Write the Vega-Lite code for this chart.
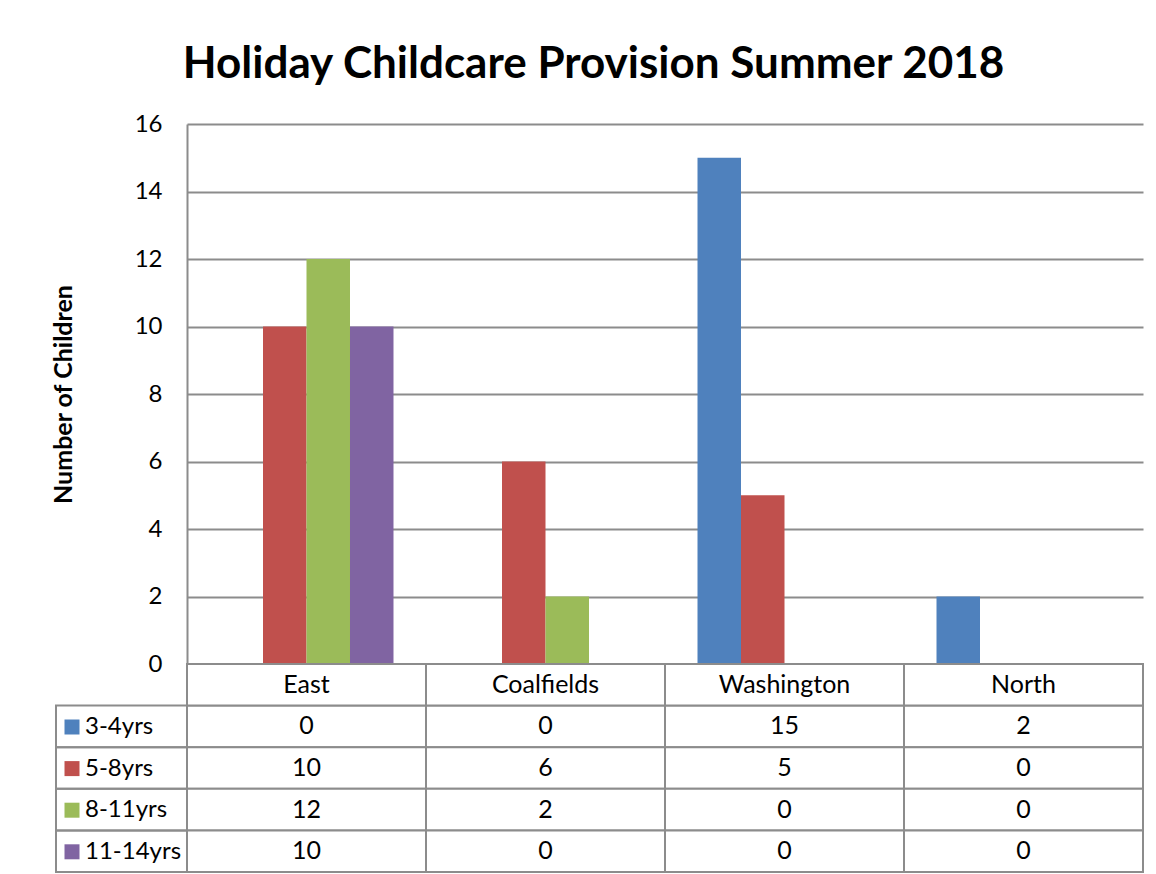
{
  "$schema": "https://vega.github.io/schema/vega-lite/v6.json",
  "background": "white",
  "padding": {"left": 51, "top": 43, "right": 14, "bottom": 2},
  "title": {
    "text": "Holiday Childcare Provision Summer 2018",
    "font": "Lato", "fontSize": 44, "fontWeight": "bold", "color": "black",
    "anchor": "middle", "baseline": "alphabetic", "offset": -10, "dx": -4
  },
  "datasets": {
    "counts": [
      {"region": "East", "group": "3-4yrs", "count": 0},
      {"region": "East", "group": "5-8yrs", "count": 10},
      {"region": "East", "group": "8-11yrs", "count": 12},
      {"region": "East", "group": "11-14yrs", "count": 10},
      {"region": "Coalfields", "group": "3-4yrs", "count": 0},
      {"region": "Coalfields", "group": "5-8yrs", "count": 6},
      {"region": "Coalfields", "group": "8-11yrs", "count": 2},
      {"region": "Coalfields", "group": "11-14yrs", "count": 0},
      {"region": "Washington", "group": "3-4yrs", "count": 15},
      {"region": "Washington", "group": "5-8yrs", "count": 5},
      {"region": "Washington", "group": "8-11yrs", "count": 0},
      {"region": "Washington", "group": "11-14yrs", "count": 0},
      {"region": "North", "group": "3-4yrs", "count": 2},
      {"region": "North", "group": "5-8yrs", "count": 0},
      {"region": "North", "group": "8-11yrs", "count": 0},
      {"region": "North", "group": "11-14yrs", "count": 0}
    ]
  },
  "columns": 2,
  "spacing": 0,
  "align": "each",
  "bounds": "flush",
  "resolve": {
    "scale": {"x": "independent", "y": "independent"},
    "legend": {"color": "independent"}
  },
  "concat": [
    {
      "width": 131, "height": 540,
      "data": {"name": "counts"},
      "transform": [{"filter": {"field": "region", "equal": "East"}}],
      "mark": {"type": "text", "text": ""},
      "encoding": {}
    },
    {
      "width": 956, "height": 540,
      "data": {"name": "counts"},
      "mark": {"type": "bar"},
      "encoding": {
        "x": {
          "field": "region", "type": "nominal",
          "sort": ["East", "Coalfields", "Washington", "North"],
          "scale": {"paddingInner": 0.272, "paddingOuter": 0.136},
          "axis": null
        },
        "xOffset": {
          "field": "group", "type": "nominal",
          "sort": ["3-4yrs", "5-8yrs", "8-11yrs", "11-14yrs"],
          "scale": {"paddingInner": 0, "paddingOuter": 0}
        },
        "y": {
          "field": "count", "type": "quantitative",
          "scale": {"domain": [0, 16], "nice": false},
          "axis": {
            "values": [0, 2, 4, 6, 8, 10, 12, 14, 16],
            "title": "Number of Children",
            "grid": true, "ticks": false, "domain": true,
            "labelPadding": 25, "titlePadding": 58
          }
        },
        "color": {
          "field": "group", "type": "nominal",
          "scale": {
            "domain": ["3-4yrs", "5-8yrs", "8-11yrs", "11-14yrs"],
            "range": ["#4F81BD", "#C0504D", "#9BBB59", "#8064A2"]
          },
          "legend": {
            "orient": "none", "legendX": -127, "legendY": 591,
            "title": null, "symbolType": "square", "symbolSize": 225,
            "symbolStrokeWidth": 0, "symbolOpacity": 1,
            "labelFont": "Lato", "labelFontSize": 24, "labelColor": "black",
            "labelOffset": 1, "rowPadding": 17.6, "padding": 0
          }
        }
      }
    },
    {
      "width": 131, "height": 208,
      "data": {"name": "counts"},
      "transform": [{"filter": {"field": "region", "equal": "East"}}],
      "mark": {"type": "rect", "fillOpacity": 0, "stroke": "#8c8c8c", "strokeWidth": 2},
      "encoding": {
        "y": {
          "field": "group", "type": "nominal",
          "scale": {"domain": ["Region", "3-4yrs", "5-8yrs", "8-11yrs", "11-14yrs"], "paddingInner": 0, "paddingOuter": 0},
          "axis": null
        }
      }
    },
    {
      "width": 956, "height": 208,
      "data": {"name": "counts"},
      "encoding": {
        "x": {
          "field": "region", "type": "nominal",
          "sort": ["East", "Coalfields", "Washington", "North"],
          "scale": {"paddingInner": 0, "paddingOuter": 0},
          "axis": null
        }
      },
      "layer": [
        {
          "mark": {"type": "rect", "fill": "white", "stroke": "#8c8c8c", "strokeWidth": 2},
          "encoding": {
            "y": {
              "field": "group", "type": "nominal",
              "scale": {"domain": ["Region", "3-4yrs", "5-8yrs", "8-11yrs", "11-14yrs"], "paddingInner": 0, "paddingOuter": 0},
              "axis": null
            }
          }
        },
        {
          "mark": {"type": "text", "font": "Lato", "fontSize": 25, "color": "black", "align": "center", "baseline": "middle"},
          "encoding": {
            "y": {"field": "group", "type": "nominal"},
            "text": {"field": "count", "type": "quantitative"}
          }
        },
        {
          "transform": [{"filter": {"field": "group", "equal": "3-4yrs"}}],
          "mark": {"type": "rect", "fill": "white", "stroke": "#8c8c8c", "strokeWidth": 2},
          "encoding": {
            "y": {"datum": "Region", "type": "nominal"}
          }
        },
        {
          "transform": [{"filter": {"field": "group", "equal": "3-4yrs"}}],
          "mark": {"type": "text", "font": "Lato", "fontSize": 25, "color": "black", "align": "center", "baseline": "middle"},
          "encoding": {
            "y": {"datum": "Region", "type": "nominal"},
            "text": {"field": "region", "type": "nominal"}
          }
        }
      ]
    }
  ],
  "config": {
    "font": "Lato",
    "view": {"stroke": null},
    "axis": {
      "labelFont": "Lato", "labelFontSize": 24, "labelColor": "black",
      "titleFont": "Lato", "titleFontSize": 25, "titleFontWeight": "bold", "titleColor": "black",
      "gridColor": "#8c8c8c", "gridWidth": 2, "domainColor": "#8c8c8c", "domainWidth": 2
    }
  }
}
